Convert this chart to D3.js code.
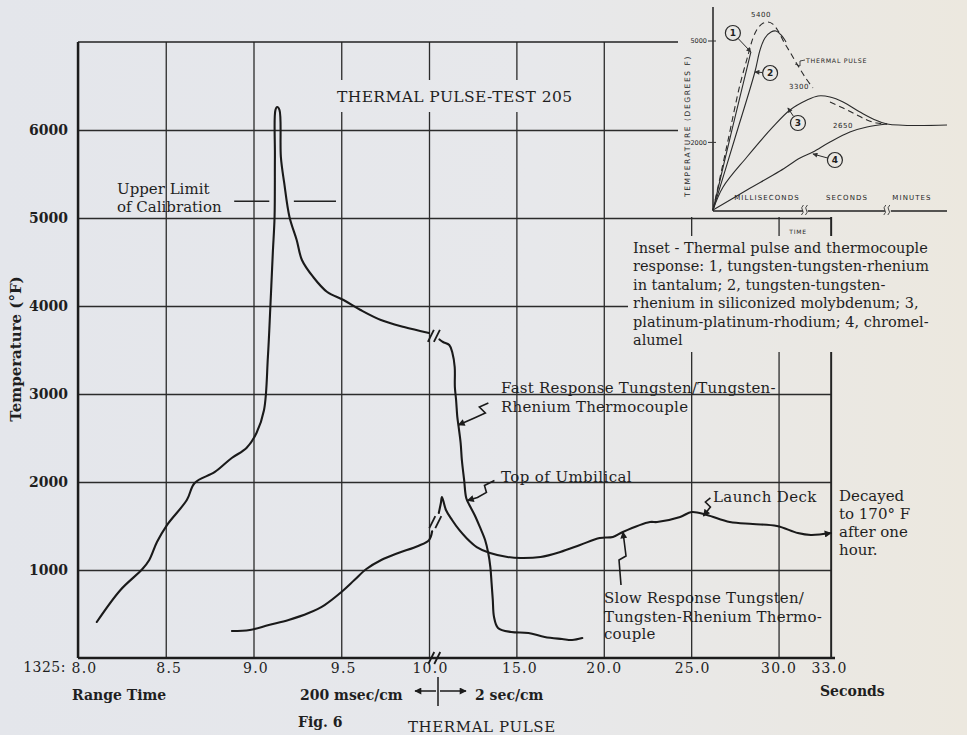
<!DOCTYPE html>
<html><head><meta charset="utf-8">
<script src="https://cdn.jsdelivr.net/npm/d3@7"></script>
<style>
html,body{margin:0;padding:0;background:#e7e8ec;}
svg{display:block;}
text{font-family:"DejaVu Serif",serif;fill:#1f1f1f;}
.sans{font-family:"DejaVu Sans",sans-serif;}
</style></head><body>
<svg id="c" width="967" height="735"></svg>
<script>
// ---------- DATA ----------
const xTicks = [8, 8.5, 9, 9.5, 10, 15, 20, 25, 30, 33];
const xTickLabels = ["8.0", "8.5", "9.0", "9.5", "10.0", "15.0", "20.0", "25.0", "30.0", "33.0"];
const yTicks = [1000, 2000, 3000, 4000, 5000, 6000];

// Fast response W/W-Re thermocouple (seconds, deg F) – before and after the scale break
const fastA_t = [8.107, 8.242, 8.367, 8.406, 8.45, 8.507, 8.62, 8.665, 8.78, 8.876, 8.96, 9.017, 9.06, 9.082, 9.096, 9.11, 9.12, 9.122, 9.125, 9.135, 9.148, 9.156, 9.175, 9.205, 9.246, 9.276, 9.34, 9.42, 9.513, 9.61, 9.726, 9.858, 10.0];
const fastA_T = [409, 773, 1011, 1114, 1318, 1511, 1795, 1989, 2114, 2273, 2386, 2557, 2818, 3420, 3989, 4602, 5011, 5693, 6227, 6261, 6227, 5693, 5398, 5011, 4750, 4523, 4330, 4159, 4068, 3955, 3841, 3761, 3693];
const fastB_t = [10.6, 10.8, 11.16, 11.34, 11.47, 11.48, 11.55, 11.62, 11.68, 11.81, 11.88, 12.01, 12.13, 12.31, 12.61, 12.91, 13.21, 13.39, 13.51, 13.58, 13.65, 13.72, 13.95, 14.70, 15.69, 16.62, 17.61, 18.19, 18.77];
const fastB_T = [3620, 3591, 3557, 3466, 3307, 3080, 2932, 2739, 2648, 2443, 2250, 2023, 1818, 1739, 1625, 1489, 1341, 1193, 1034, 852, 659, 466, 341, 295, 284, 239, 216, 205, 227];

// Slow response W/W-Re thermocouple
const slowA_t = [8.877, 8.979, 9.087, 9.2, 9.314, 9.405, 9.501, 9.575, 9.643, 9.728, 9.825, 9.938, 10.0, 10.18];
const slowA_T = [307, 318, 375, 432, 511, 602, 750, 886, 1011, 1114, 1193, 1273, 1340, 1440];
const slowB_t = [10.56, 10.68, 10.74, 10.97, 11.32, 11.73, 12.14, 12.73, 13.49, 14.49, 15.25, 16.38, 17.51, 18.64, 19.77, 20.52, 21.09, 22.64, 23.05, 24.37, 25.03, 25.9, 27.21, 28.53, 29.91, 31.1, 31.85, 33.0];
const slowB_T = [1648, 1761, 1830, 1682, 1568, 1455, 1364, 1261, 1193, 1148, 1136, 1148, 1205, 1284, 1364, 1375, 1432, 1545, 1545, 1602, 1659, 1625, 1545, 1523, 1500, 1420, 1398, 1420];

// scale-break marks (seconds, deg F)
const breaks_t = [10.28, 10.36, 10.3];
const breaks_T = [3660, 1545, 0];

// upper limit of calibration dashes
const limitStart = [8.89, 9.23];
const limitEnd = [9.09, 9.47];
const limitT = 5190;

// Inset (arbitrary time units 0-10, deg F)
const insetYTicks = [2000, 5000];
const pulseA_u = [0, 0.6, 1.15, 1.5, 1.71, 1.92, 2.15, 2.35, 2.56, 2.78, 3.03, 3.29, 3.59, 3.93, 4.27];
const pulseA_T = [0, 1923, 3698, 4586, 5089, 5385, 5530, 5562, 5500, 5300, 4970, 4675, 4320, 3935, 3609];
const pulseB_u = [5.0, 5.56, 6.07, 6.58, 7.0, 7.44];
const pulseB_T = [3195, 3018, 2840, 2663, 2574, 2544];
const c1_u = [0, 0.81, 1.62];
const c1_T = [0, 2367, 4675];
const c2_u = [0, 0.94, 1.79, 2.01, 2.22, 2.48, 2.69, 2.91, 3.12];
const c2_T = [0, 2130, 4083, 4734, 5089, 5266, 5296, 5178, 4970];
const c3_u = [0, 0.43, 1.45, 2.56, 3.29, 4.02, 4.49, 5.0, 5.56, 6.28, 6.84, 7.44, 10];
const c3_T = [0, 680, 1568, 2456, 2959, 3254, 3373, 3343, 3195, 2899, 2692, 2544, 2515];
const c4_u = [0, 1.45, 2.86, 3.72, 4.27, 5.0, 5.85, 6.58, 7.44];
const c4_T = [0, 592, 1154, 1538, 1716, 2012, 2308, 2456, 2544];
const circleLabels = ["1", "2", "3", "4"];
const circle_u = [0.85, 2.44, 3.63, 5.21];
const circle_T = [5237, 4053, 2574, 1479];
const circleTip_u = [1.62, 1.79, 3.2, 4.27];
const circleTip_T = [4675, 4083, 3018, 1657];

const captionLines = [
  "Inset - Thermal pulse and thermocouple",
  "response:  1, tungsten-tungsten-rhenium",
  "in tantalum;  2, tungsten-tungsten-",
  "rhenium in siliconized molybdenum;  3,",
  "platinum-platinum-rhodium;  4, chromel-",
  "alumel"
];

// ---------- DRAW ----------
const svg = d3.select("#c");
const defs = svg.append("defs");
const g = defs.append("linearGradient").attr("id", "bg").attr("gradientUnits", "userSpaceOnUse")
  .attr("x1", 0).attr("y1", 0).attr("x2", 967).attr("y2", 0);
g.append("stop").attr("offset", 0).attr("stop-color", "#e4e6eb");
g.append("stop").attr("offset", 0.55).attr("stop-color", "#e7e8eb");
g.append("stop").attr("offset", 1).attr("stop-color", "#ece8df");
defs.append("marker").attr("id", "ah").attr("viewBox", "0 0 10 10").attr("refX", 9).attr("refY", 5)
  .attr("markerWidth", 9).attr("markerHeight", 7).attr("markerUnits", "userSpaceOnUse").attr("orient", "auto")
  .append("path").attr("d", "M0,0L10,5L0,10z").attr("fill", "#1c1c1c");
defs.append("marker").attr("id", "ahs").attr("viewBox", "0 0 10 10").attr("refX", 9).attr("refY", 5)
  .attr("markerWidth", 6).attr("markerHeight", 5).attr("markerUnits", "userSpaceOnUse").attr("orient", "auto")
  .append("path").attr("d", "M0,0L10,5L0,10z").attr("fill", "#333");

svg.append("rect").attr("width", 967).attr("height", 735).attr("fill", "url(#bg)");

const x = d3.scaleLinear().domain([8, 10, 33]).range([78, 429, 831]);
const y = d3.scaleLinear().domain([0, 7000]).range([658, 42]);

// grid via axes
const gy = svg.append("g").attr("transform", `translate(${x(8)},0)`)
  .call(d3.axisLeft(y).tickValues(yTicks).tickSize(-(x(33) - x(8))).tickPadding(10).tickFormat(d3.format("d")));
gy.select(".domain").remove();
gy.selectAll("line").attr("stroke", "#2b2b2b").attr("stroke-width", 1.3);
gy.selectAll("text").attr("font-size", 14).attr("font-weight", "bold").attr("fill", "#222")
  .style("font-family", "DejaVu Serif");

const xLabelDx = [6, 3, 2, 2, 1, 3, 0, 1, 0, -2];
const gx = svg.append("g").attr("transform", `translate(0,${y(0)})`)
  .call(d3.axisBottom(x).tickValues(xTicks).tickSize(-(y(0) - y(7000))).tickPadding(5)
    .tickFormat((d, i) => xTickLabels[i]));
gx.select(".domain").remove();
gx.selectAll("line").attr("stroke", "#2b2b2b").attr("stroke-width", 1.3);
gx.selectAll("text").attr("font-size", 14).attr("letter-spacing", 1.2).attr("fill", "#222")
  .style("font-family", "DejaVu Serif")
  .attr("dx", (d, i) => xLabelDx[i]);

// frame
svg.append("line").attr("x1", x(8)).attr("x2", x(33)).attr("y1", y(7000)).attr("y2", y(7000)).attr("stroke", "#222").attr("stroke-width", 1.6);
svg.append("line").attr("x1", x(8)).attr("x2", x(33) + 4).attr("y1", y(0)).attr("y2", y(0)).attr("stroke", "#1c1c1c").attr("stroke-width", 2.4);
svg.append("line").attr("x1", x(8)).attr("x2", x(8)).attr("y1", y(7000)).attr("y2", y(0)).attr("stroke", "#1c1c1c").attr("stroke-width", 2.4);
svg.append("line").attr("x1", x(33)).attr("x2", x(33)).attr("y1", y(7000)).attr("y2", y(0)).attr("stroke", "#222").attr("stroke-width", 1.6);

// patches (inset pasted over grid)
svg.append("rect").attr("x", 678).attr("y", 0).attr("width", 289).attr("height", 217).attr("fill", "url(#bg)");
svg.append("rect").attr("x", 628).attr("y", 236).attr("width", 339).attr("height", 116).attr("fill", "url(#bg)");
svg.append("rect").attr("x", 334).attr("y", 80).attr("width", 238).attr("height", 32).attr("fill", "url(#bg)");

function txt(px, py, s, o = {}) {
  const t = svg.append("text").attr("x", px).attr("y", py).attr("dy", "0.35em").text(s)
    .attr("font-size", o.size || 15);
  if (o.weight) t.attr("font-weight", o.weight);
  if (o.anchor) t.attr("text-anchor", o.anchor);
  if (o.ls != null) t.attr("letter-spacing", o.ls);
  if (o.cls) t.attr("class", o.cls);
  if (o.rot) t.attr("transform", `rotate(${o.rot},${px},${py})`);
  if (o.fill) t.style("fill", o.fill);
  return t;
}

// curves
const line = d3.line().x(d => x(d[0])).y(d => y(d[1])).curve(d3.curveCatmullRom.alpha(0.5));
const zip = (a, b) => a.map((v, i) => [v, b[i]]);
const curveStyle = s => s.attr("fill", "none").attr("stroke", "#1a1a1a").attr("stroke-width", 2.1)
  .attr("stroke-linejoin", "round").attr("stroke-linecap", "round");
curveStyle(svg.append("path").attr("d", line(zip(fastA_t, fastA_T))));
curveStyle(svg.append("path").attr("d", line(zip(fastB_t, fastB_T))));
curveStyle(svg.append("path").attr("d", line(zip(slowA_t, slowA_T))));
curveStyle(svg.append("path").attr("d", line(zip(slowB_t, slowB_T)))).attr("marker-end", "url(#ah)");

// break marks
breaks_t.forEach((t, i) => {
  const bx = x(t), by = y(breaks_T[i]);
  [-3, 3].forEach(off => {
    svg.append("line").attr("x1", bx + off - 3).attr("y1", by + 6).attr("x2", bx + off + 3).attr("y2", by - 6)
      .attr("stroke", "#1a1a1a").attr("stroke-width", 1.8);
  });
});

// upper limit dashes
limitStart.forEach((s, i) => {
  svg.append("line").attr("x1", x(s)).attr("x2", x(limitEnd[i])).attr("y1", y(limitT)).attr("y2", y(limitT))
    .attr("stroke", "#222").attr("stroke-width", 1.5);
});

// zigzag annotation arrows: tip in data coords, offsets in px
function zig(t, T, pts) {
  const tx = x(t), ty = y(T);
  const d = "M" + pts.map(p => `${tx + p[0]},${ty + p[1]}`).join("L") + `L${tx},${ty}`;
  svg.append("path").attr("d", d).attr("fill", "none").attr("stroke", "#1a1a1a").attr("stroke-width", 1.6)
    .attr("marker-end", "url(#ah)");
}
zig(11.68, 2648, [[30, -22], [21, -18], [27, -12], [16, -7]]);
zig(12.2, 1790, [[27, -20], [17, -15], [19, -8], [10, -3]]);
zig(21.1, 1432, [[-2, 53], [-4, 28], [3, 24]]);
zig(25.7, 1614, [[7, -18], [2, -14], [7, -9]]);

// texts
txt(337, 97, "THERMAL PULSE-TEST 205", { size: 15.5, ls: 0.4 });
txt(117, 189, "Upper Limit", { size: 15 });
txt(117, 207, "of Calibration", { size: 15 });
txt(501, 388, "Fast Response Tungsten/Tungsten-", { size: 15, ls: 0.25 });
txt(501, 407, "Rhenium Thermocouple", { size: 15, ls: 0.25 });
txt(501, 477, "Top of Umbilical", { size: 15, ls: 0.4 });
txt(713, 497, "Launch Deck", { size: 15, ls: 0.4 });
txt(604, 598, "Slow Response Tungsten/", { size: 15, ls: 0.2 });
txt(604, 617, "Tungsten-Rhenium Thermo-", { size: 15, ls: 0.2 });
txt(604, 634, "couple", { size: 15, ls: 0.2 });
["Decayed", "to 170\u00B0 F", "after one", "hour."].forEach((s, i) => txt(839, 496 + i * 17.8, s, { size: 15 }));
captionLines.forEach((s, i) => txt(633, 248 + i * 18.4, s, { size: 14.5 }));

txt(16, 349, "Temperature (\u00B0F)", { size: 15, weight: "bold", anchor: "middle", rot: -90 });
txt(66, 667, "1325:", { size: 14, anchor: "end", ls: 0.5 });
txt(72, 695, "Range Time", { size: 14, weight: "bold" });
txt(300, 695, "200 msec/cm", { size: 14, weight: "bold" });
txt(475, 695, "2 sec/cm", { size: 14, weight: "bold" });
txt(820, 691, "Seconds", { size: 14, weight: "bold" });
txt(298, 722, "Fig. 6", { size: 14, weight: "bold" });
txt(408, 727, "THERMAL PULSE", { size: 15, ls: 0.6 });
// scale arrows
svg.append("line").attr("x1", x(10) + 9).attr("x2", x(10) + 9).attr("y1", 677).attr("y2", 706).attr("stroke", "#1a1a1a").attr("stroke-width", 1.5);
svg.append("line").attr("x1", x(10) + 7).attr("x2", 415).attr("y1", 691).attr("y2", 691).attr("stroke", "#1a1a1a").attr("stroke-width", 1.5).attr("marker-end", "url(#ah)");
svg.append("line").attr("x1", x(10) + 11).attr("x2", 466).attr("y1", 691).attr("y2", 691).attr("stroke", "#1a1a1a").attr("stroke-width", 1.5).attr("marker-end", "url(#ah)");

// ---------- INSET ----------
const ix = d3.scaleLinear().domain([0, 10]).range([713, 947]);
const iy = d3.scaleLinear().domain([0, 5000]).range([210, 41]);
const iline = d3.line().x(d => ix(d[0])).y(d => iy(d[1])).curve(d3.curveCatmullRom.alpha(0.5));
const inset = svg.append("g");
// axes
inset.append("line").attr("x1", ix(0)).attr("x2", ix(0)).attr("y1", 7).attr("y2", iy(0) + 1).attr("stroke", "#222").attr("stroke-width", 1.5);
[[0, 3.85], [4.05, 7.35], [7.6, 10]].forEach(seg => {
  inset.append("line").attr("x1", ix(seg[0])).attr("x2", ix(seg[1])).attr("y1", iy(0) + 1).attr("y2", iy(0) + 1)
    .attr("stroke", "#222").attr("stroke-width", 1.3);
});
[3.95, 7.47].forEach(u => {
  [-2, 2].forEach(off => inset.append("path")
    .attr("d", `M${ix(u) + off - 2},${iy(0) + 5} q3,-3 1,-5 q-2,-2 1,-5`).attr("fill", "none").attr("stroke", "#333").attr("stroke-width", 0.9));
});
insetYTicks.forEach(v => {
  inset.append("line").attr("x1", ix(0) - 5).attr("x2", ix(0) + 3).attr("y1", iy(v)).attr("y2", iy(v)).attr("stroke", "#333").attr("stroke-width", 1);
  inset.append("text").attr("x", ix(0) - 6).attr("y", iy(v)).attr("dy", "0.35em").attr("text-anchor", "end")
    .attr("class", "sans").attr("font-size", 6.5).text(v);
});
txt(687, 126, "TEMPERATURE (DEGREES F)", { size: 7.5, cls: "sans", anchor: "middle", rot: -90, ls: 1.6 });
txt(767, 198, "MILLISECONDS", { size: 7, cls: "sans", anchor: "middle", ls: 1.1 });
txt(847, 198, "SECONDS", { size: 7, cls: "sans", anchor: "middle", ls: 1.1 });
txt(912, 198, "MINUTES", { size: 7, cls: "sans", anchor: "middle", ls: 1.1 });
txt(798, 232, "TIME", { size: 6, cls: "sans", anchor: "middle", ls: 0.8 });
txt(761, 15, "5400", { size: 7, cls: "sans", anchor: "middle", ls: 0.6 });
txt(799, 87, "3300", { size: 7, cls: "sans", anchor: "middle", ls: 0.6 });
txt(843, 126, "2650", { size: 7, cls: "sans", anchor: "middle", ls: 0.6 });
txt(806, 61, "THERMAL PULSE", { size: 6.3, cls: "sans", ls: 0.7 });
inset.append("path").attr("d", "M805,60 L800,61 L800,66 L795,64").attr("fill", "none").attr("stroke", "#333").attr("stroke-width", 0.9);

const thin = s => s.attr("fill", "none").attr("stroke", "#2a2a2a").attr("stroke-width", 1.1);
thin(inset.append("path").attr("d", iline(zip(pulseA_u, pulseA_T)))).attr("stroke-dasharray", "6,4");
thin(inset.append("path").attr("d", iline(zip(pulseB_u, pulseB_T)))).attr("stroke-dasharray", "6,4");
thin(inset.append("path").attr("d", iline(zip(c1_u, c1_T))));
thin(inset.append("path").attr("d", iline(zip(c2_u, c2_T))));
thin(inset.append("path").attr("d", iline(zip(c3_u, c3_T))));
thin(inset.append("path").attr("d", iline(zip(c4_u, c4_T))));

circleLabels.forEach((lab, i) => {
  const cx = ix(circle_u[i]), cy = iy(circle_T[i]);
  const tx = ix(circleTip_u[i]), ty = iy(circleTip_T[i]);
  const ang = Math.atan2(ty - cy, tx - cx);
  inset.append("line").attr("x1", cx + 8 * Math.cos(ang)).attr("y1", cy + 8 * Math.sin(ang)).attr("x2", tx).attr("y2", ty)
    .attr("stroke", "#2a2a2a").attr("stroke-width", 1).attr("marker-end", "url(#ahs)");
  inset.append("circle").attr("cx", cx).attr("cy", cy).attr("r", 7.5).attr("fill", "none").attr("stroke", "#2a2a2a").attr("stroke-width", 1.2);
  inset.append("text").attr("x", cx).attr("y", cy).attr("dy", "0.36em").attr("text-anchor", "middle")
    .attr("class", "sans").attr("font-size", 9).attr("font-weight", "bold").text(lab);
});
</script>
</body></html>
